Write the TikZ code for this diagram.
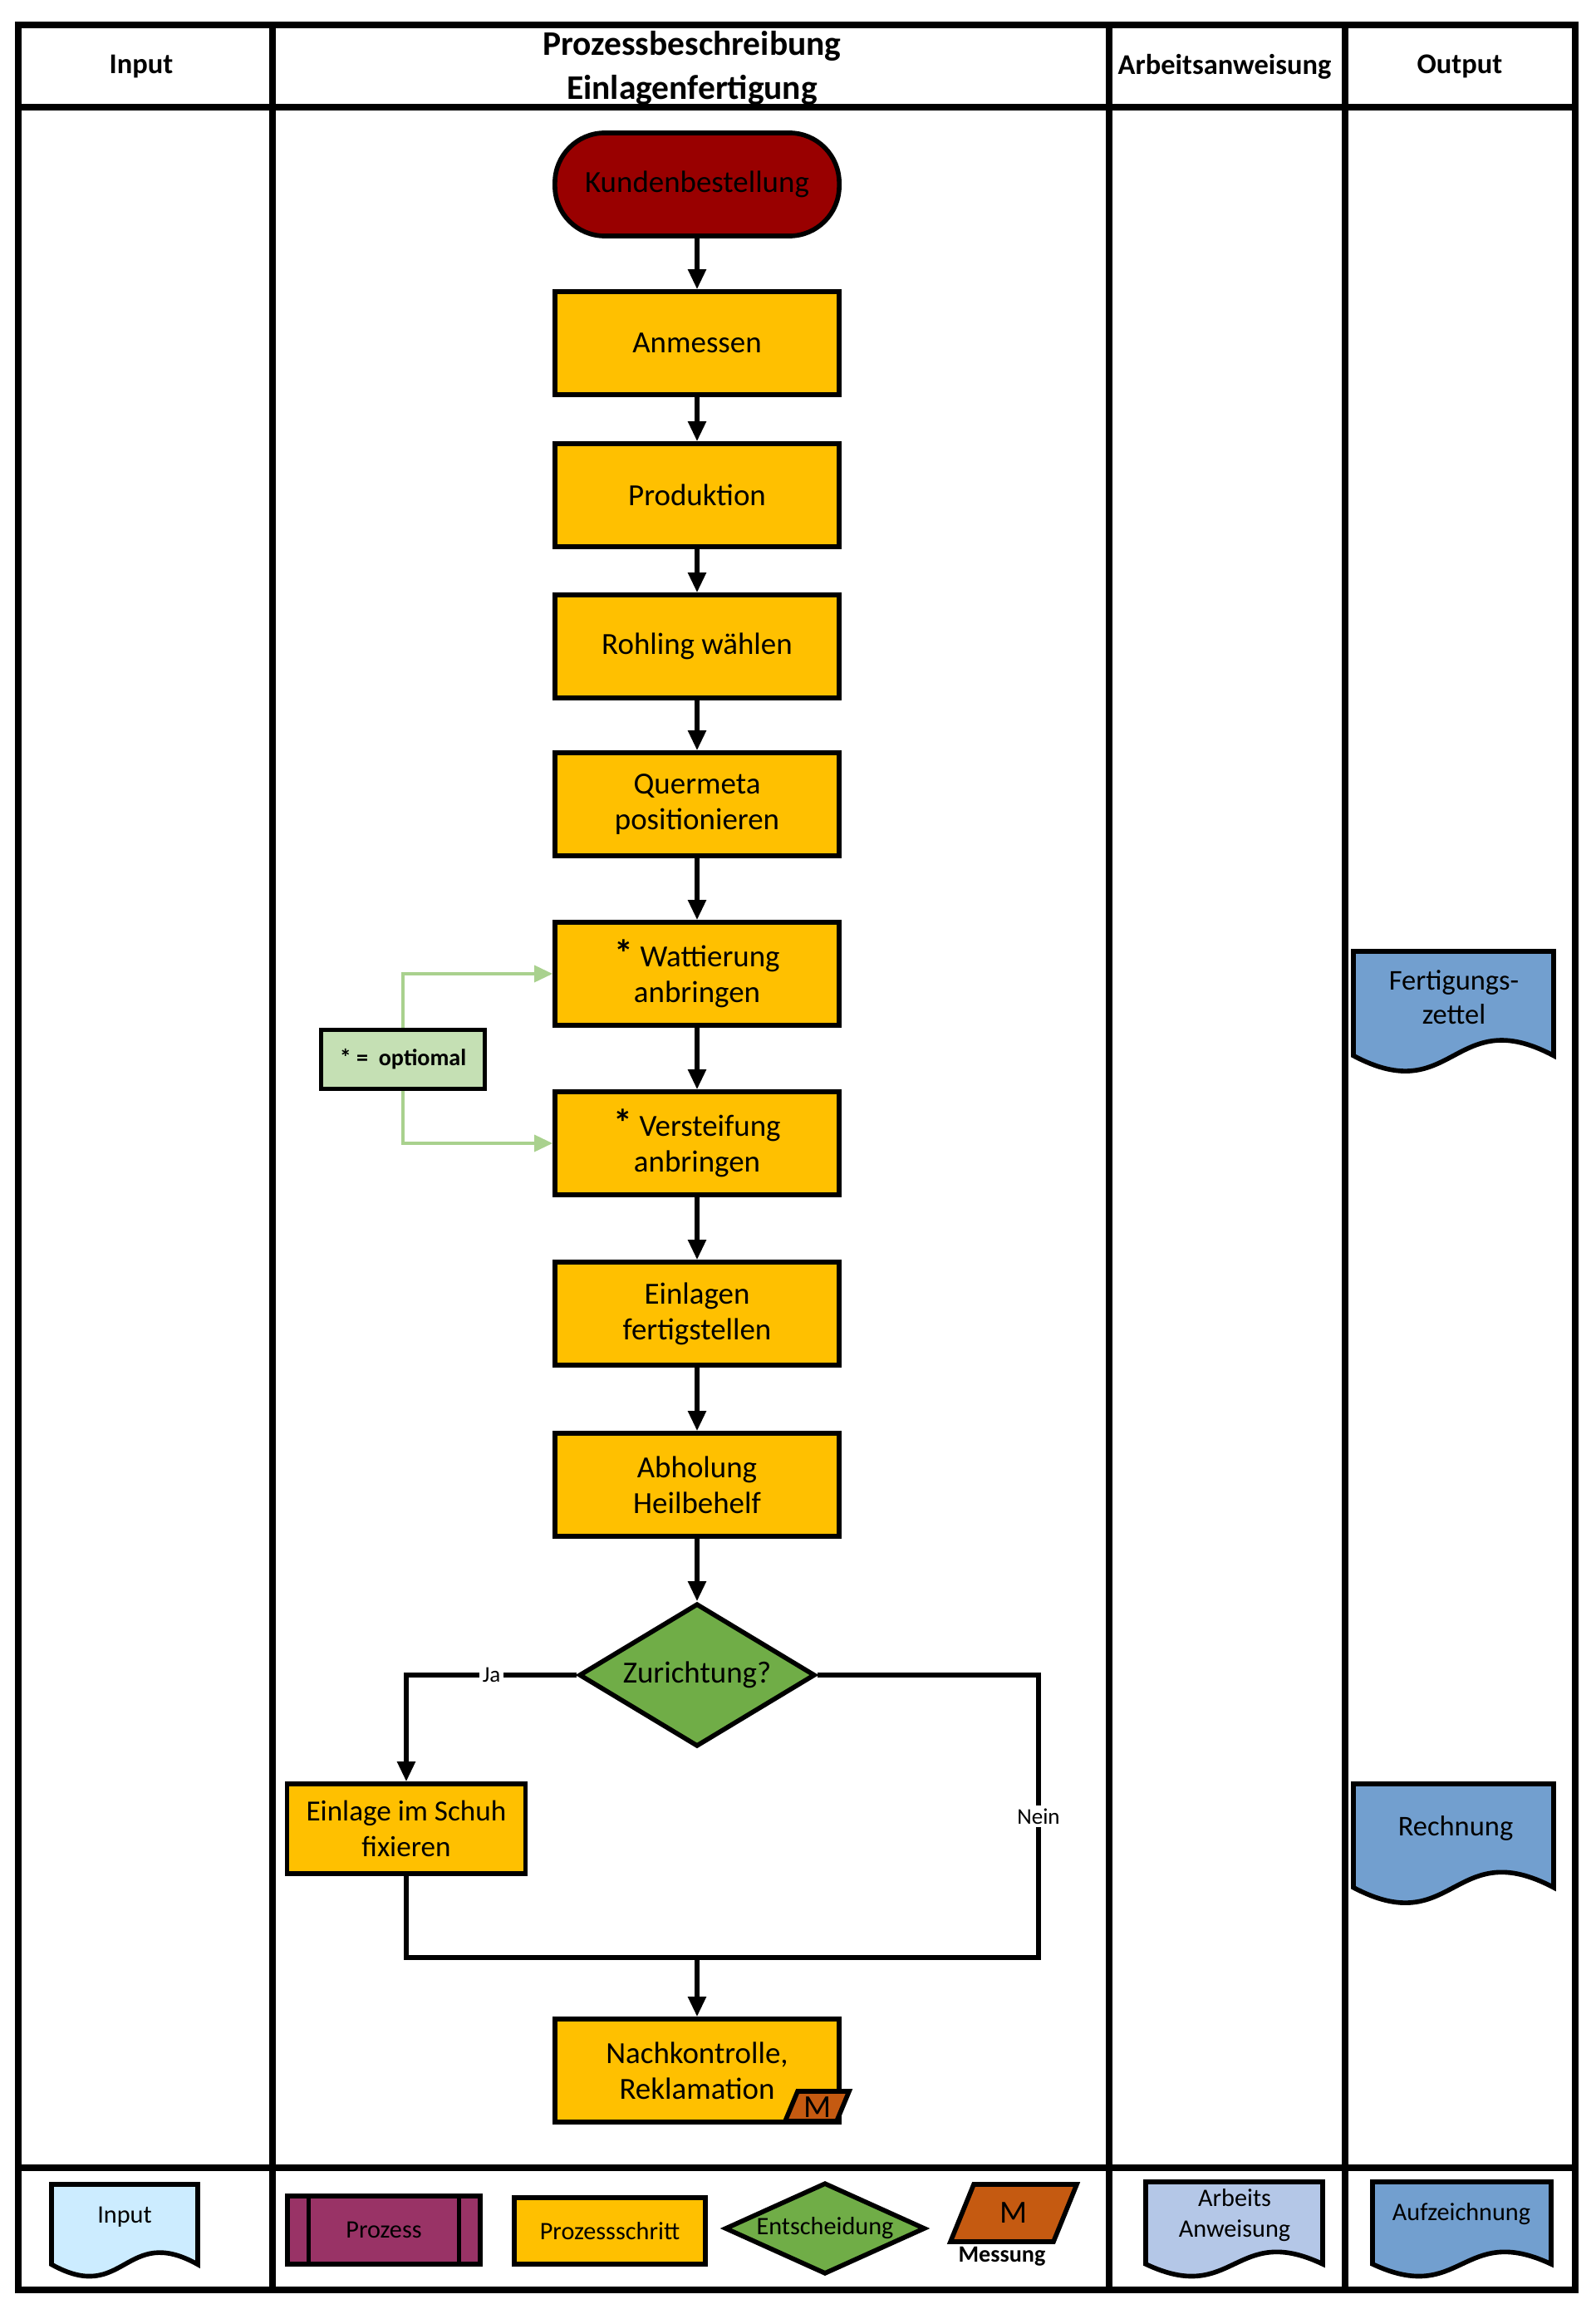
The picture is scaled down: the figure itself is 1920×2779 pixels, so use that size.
\documentclass[tikz,border=0pt]{standalone}
\usepackage{fontspec}
\setmainfont{Carlito}
\usetikzlibrary{arrows.meta,shapes.geometric,calc}

\definecolor{stepcol}{HTML}{FFC000}
\definecolor{startcol}{HTML}{990000}
\definecolor{decicol}{HTML}{70AD47}
\definecolor{notecol}{HTML}{C5E0B4}
\definecolor{notelinecol}{HTML}{A9D18E}
\definecolor{meascol}{HTML}{C55A11}
\definecolor{outcol}{HTML}{729FCF}
\definecolor{instrcol}{HTML}{B4C7E7}
\definecolor{incol}{HTML}{CCECFF}
\definecolor{proccol}{HTML}{993366}

% document symbol: fill, x1, y1, x2, y2
\newcommand{\docsym}[5]{%
  \draw[line width=1.6pt,fill=#1] (#2,#3) -- (#4,#3) -- (#4,{#3+0.86*(#5-#3)})
    .. controls ({(#2+#4)/2},{#3+0.42*(#5-#3)}) and ({(#2+#4)/2},{#3+1.3*(#5-#3)})
    .. (#2,{#3+0.86*(#5-#3)}) -- cycle;}

\begin{document}
\begin{tikzpicture}[x=0.01cm,y=-0.01cm,
  lane/.style={line width=2.4pt},
  head/.style={font=\fontsize{9.8}{12}\selectfont\bfseries,align=center},
  stepbox/.style={draw,line width=1.6pt,fill=stepcol,minimum width=3.42cm,
    minimum height=1.24cm,align=center,inner sep=2pt,
    font=\fontsize{10.5}{12.3}\selectfont},
  decision/.style={draw,line width=1.6pt,fill=decicol,diamond,inner sep=0pt,
    aspect=1.65,minimum width=2.84cm,minimum height=1.72cm,
    font=\fontsize{10.5}{12.3}\selectfont},
  arr/.style={line width=1.5pt,-{Triangle[length=0.24cm,width=0.21cm]}},
  garr/.style={draw=notelinecol,line width=1pt,-{Triangle[length=0.22cm,width=0.2cm]}},
  lbl/.style={fill=white,inner sep=1pt,font=\fontsize{7.7}{9}\selectfont},
  doctext/.style={align=center,font=\fontsize{9.8}{11.6}\selectfont},
  legtext/.style={align=center,font=\fontsize{8.6}{10.4}\selectfont}]

  \useasboundingbox (0,0) rectangle (1920,2779);

  % lanes
  \draw[lane] (22,30) rectangle (1896,2756);
  \draw[lane] (22,129) -- (1896,129);
  \draw[lane] (22,2609) -- (1896,2609);
  \foreach \x in {328,1335,1619}
    \draw[lane] (\x,30) -- (\x,2756);

  \node (hin) at (170,80) [head] {Input};
  \node (hproc) at (833,82) [head,font=\fontsize{11.8}{15}\selectfont\bfseries]
    {Prozessbeschreibung\\Einlagenfertigung};
  \node (harb) at (1474,80) [head] {Arbeitsanweisung};
  \node (hout) at (1757,80) [head] {Output};

  % flow
  \node (kunde) at (839,222) [stepbox,fill=startcol,rounded corners=0.6cm] {Kundenbestellung};
  \node (anm) at (839,413) [stepbox] {Anmessen};
  \node (prod) at (839,596) [stepbox] {Produktion};
  \node (rohl) at (839,778) [stepbox] {Rohling wählen};
  \node (quer) at (839,968) [stepbox] {Quermeta\\positionieren};
  \node (watt) at (839,1172) [stepbox] {{\fontsize{13}{13}\selectfont\bfseries *} Wattierung\\anbringen};
  \node (vers) at (839,1376) [stepbox] {{\fontsize{13}{13}\selectfont\bfseries *} Versteifung\\anbringen};
  \node (fert) at (839,1581) [stepbox] {Einlagen\\fertigstellen};
  \node (abh) at (839,1787) [stepbox] {Abholung\\Heilbehelf};
  \node (zur) at (839,2016) [decision] {Zurichtung?};
  \node (schuh) at (489,2201) [stepbox,minimum width=2.87cm,minimum height=1.08cm,
    font=\fontsize{10}{12.3}\selectfont] {Einlage im Schuh\\fixieren};
  \node (nach) at (839,2492) [stepbox] {Nachkontrolle,\\Reklamation};

  \draw[line width=1.6pt,fill=meascol] (960,2517) -- (1022,2517) -- (1007,2553) -- (945,2553) -- cycle;
  \node (nachm) at (984,2536) [font=\fontsize{11}{11}\selectfont] {M};

  \node (note) at (485,1275) [draw,line width=1.6pt,fill=notecol,minimum width=1.97cm,
    minimum height=0.71cm,font=\fontsize{8}{9}\selectfont\bfseries] {* =\ \ optiomal};

  \coordinate (mr) at (1250,2356);
  \coordinate (ml) at (489,2356);
  \coordinate (mm) at (839,2356);

  \draw[arr] (kunde) -- (anm);
  \draw[arr] (anm) -- (prod);
  \draw[arr] (prod) -- (rohl);
  \draw[arr] (rohl) -- (quer);
  \draw[arr] (quer) -- (watt);
  \draw[arr] (watt) -- (vers);
  \draw[arr] (vers) -- (fert);
  \draw[arr] (fert) -- (abh);
  \draw[arr] (abh) -- (zur);
  \draw[arr] (zur.west) -| node[lbl,pos=0.25] {Ja} (schuh.north);
  \draw[line width=1.5pt] (zur.east) -| node[lbl,pos=0.75] {Nein} (mr) -- (ml) -- (schuh.south);
  \draw[arr] (mm) -- (nach);

  \draw[garr] (note.north) |- (watt.west);
  \draw[garr] (note.south) |- (vers.west);

  % output
  \docsym{outcol}{1629}{1145}{1870}{1291}
  \node (fz) at (1750,1200) [doctext] {Fertigungs-\\zettel};
  \docsym{outcol}{1629}{2147}{1870}{2292}
  \node (rech) at (1752,2200) [doctext] {Rechnung};

  % legend
  \docsym{incol}{62}{2629}{238}{2741}
  \node (lin) at (150,2668) [legtext] {Input};
  \node (lproz) at (462,2684) [draw,line width=1.6pt,fill=proccol,minimum width=2.32cm,
    minimum height=0.82cm,legtext] {Prozess};
  \draw[line width=1.4pt] ($(lproz.north west)+(28,0)$) -- ($(lproz.south west)+(28,0)$);
  \draw[line width=1.4pt] ($(lproz.north east)+(-28,0)$) -- ($(lproz.south east)+(-28,0)$);
  \node (lstep) at (734,2685) [draw,line width=1.6pt,fill=stepcol,minimum width=2.30cm,
    minimum height=0.80cm,legtext] {Prozessschritt};
  \node (ldec) at (993,2682) [decision,aspect=2.2,minimum width=2.41cm,minimum height=1.10cm,legtext] {Entscheidung};
  \draw[line width=1.6pt,fill=meascol] (1172,2629) -- (1296,2629) -- (1268,2698) -- (1144,2698) -- cycle;
  \node (lm) at (1220,2663) [font=\fontsize{11}{11}\selectfont] {M};
  \node (lmess) at (1206,2716) [font=\fontsize{8}{9}\selectfont\bfseries] {Messung};
  \docsym{instrcol}{1379}{2626}{1592}{2741}
  \node (larb) at (1486,2666) [legtext] {Arbeits\\Anweisung};
  \docsym{outcol}{1652}{2626}{1867}{2741}
  \node (lauf) at (1759,2665) [legtext] {Aufzeichnung};
\end{tikzpicture}
\end{document}
